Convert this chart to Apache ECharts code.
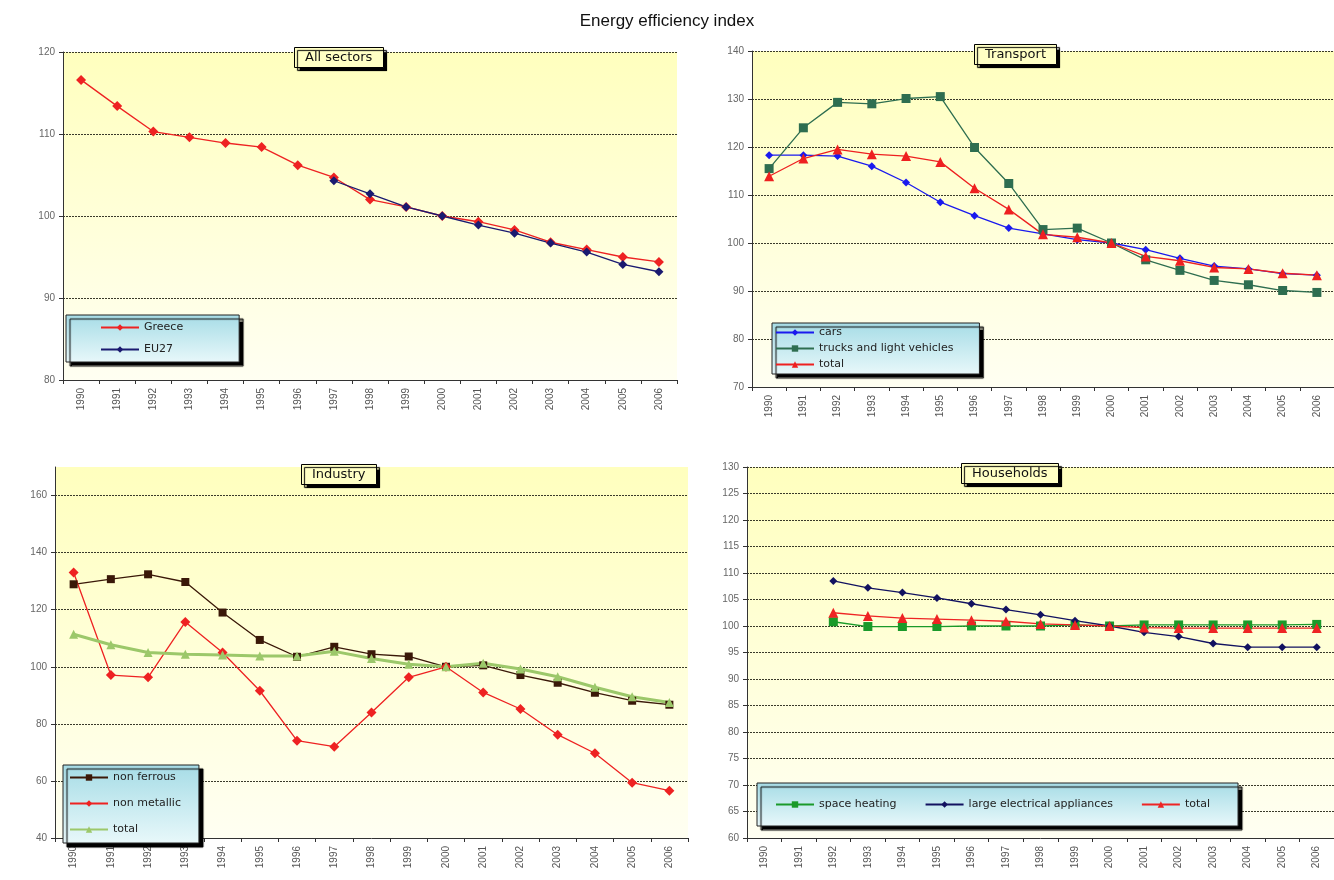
<!DOCTYPE html>
<html>
<head>
<meta charset="utf-8">
<title>Energy efficiency index</title>
<script src="https://cdn.jsdelivr.net/npm/echarts@6/dist/echarts.min.js"></script>
<style>
  html, body { margin: 0; padding: 0; background: #ffffff; }
  #chart { width: 1334px; height: 880px; }
</style>
</head>
<body>
<div id="chart"></div>
<script>
// Years shared by all four panels
const years = ['1990','1991','1992','1993','1994','1995','1996','1997','1998','1999','2000','2001','2002','2003','2004','2005','2006'];

// All sectors (index, 2000 = 100)
const greece = [116.6, 113.4, 110.3, 109.6, 108.9, 108.4, 106.2, 104.7, 102.0, 101.1, 100.0, 99.3, 98.3, 96.8, 95.9, 95.0, 94.4];
const eu27 = [null, null, null, null, null, null, null, 104.3, 102.7, 101.1, 100.0, 98.9, 97.9, 96.7, 95.6, 94.1, 93.2];

// Transport
const cars = [118.3, 118.3, 118.1, 116.0, 112.6, 108.5, 105.7, 103.1, 101.9, 100.7, 100.0, 98.6, 96.8, 95.2, 94.6, 93.6, 93.3];
const trucks = [115.5, 124.0, 129.3, 129.0, 130.1, 130.5, 119.9, 112.4, 102.8, 103.1, 100.0, 96.5, 94.3, 92.2, 91.3, 90.1, 89.7];
const transportTotal = [113.9, 117.6, 119.5, 118.5, 118.1, 116.9, 111.4, 107.0, 101.8, 101.2, 100.0, 97.2, 96.3, 94.9, 94.6, 93.7, 93.3];

// Industry
const nonFerrous = [128.9, 130.7, 132.4, 129.7, 119.0, 109.4, 103.5, 107.0, 104.4, 103.6, 100.0, 100.5, 97.1, 94.4, 90.9, 88.1, 86.7];
const nonMetallic = [133.0, 97.1, 96.3, 115.7, 105.0, 91.6, 74.1, 72.0, 84.0, 96.3, 100.0, 91.0, 85.2, 76.2, 69.7, 59.4, 56.6];
const industryTotal = [111.4, 107.7, 105.0, 104.4, 104.1, 103.8, 103.8, 105.4, 102.9, 100.9, 100.0, 101.2, 99.2, 96.5, 92.8, 89.5, 87.5];

// Households
const spaceHeating = [null, null, 100.8, 99.9, 99.9, 99.9, 100.0, 100.0, 100.0, 100.2, 100.0, 100.2, 100.2, 100.2, 100.2, 100.2, 100.3];
const appliances = [null, null, 108.5, 107.2, 106.3, 105.3, 104.2, 103.1, 102.1, 101.0, 100.0, 98.8, 98.0, 96.7, 96.0, 96.0, 96.0];
const householdsTotal = [null, null, 102.5, 101.9, 101.5, 101.3, 101.1, 100.9, 100.4, 100.2, 100.0, 99.7, 99.6, 99.6, 99.6, 99.6, 99.6];

const FONT = 'Liberation Sans, Arial, sans-serif';
const WIDE_FONT = 'DejaVu Sans, Verdana, sans-serif';

const plotFill = new echarts.graphic.LinearGradient(0, 0, 0, 1, [
  { offset: 0, color: '#ffffbe' },
  { offset: 1, color: '#fffff2' }
]);
const legendFill = new echarts.graphic.LinearGradient(0, 0, 0, 1, [
  { offset: 0, color: '#a6dce6' },
  { offset: 1, color: '#e8f8fa' }
]);

function panelGrid(left, top, width, height) {
  return { left, top, width, height, show: true, backgroundColor: plotFill, borderWidth: 0, containLabel: false };
}

function xAxisFor(gridIndex) {
  return {
    type: 'category', gridIndex, data: years, boundaryGap: true,
    axisLine: { show: true, lineStyle: { color: '#333', width: 1 } },
    axisTick: { show: true, interval: 0, length: 4, lineStyle: { color: '#333' } },
    axisLabel: { interval: 0, rotate: 90, fontSize: 10, color: '#555', fontFamily: FONT, margin: 8 },
    splitLine: { show: false }
  };
}

function yAxisFor(gridIndex, min, max, interval, hideMax) {
  return {
    type: 'value', gridIndex, min, max, interval,
    axisLine: { show: true, lineStyle: { color: '#333', width: 1 } },
    axisTick: { show: true, length: 4, lineStyle: { color: '#333' } },
    axisLabel: { fontSize: 10, color: '#666', fontFamily: FONT, margin: 8, showMaxLabel: !hideMax },
    splitLine: { show: true, showMinLine: false, showMaxLine: !hideMax, lineStyle: { color: '#3a3a2a', width: 1.2, type: [2, 1] } }
  };
}

function panelTitle(text, left, top) {
  return {
    text, left, top,
    padding: [4, 11, 4, 11],
    backgroundColor: '#ffffc4',
    borderColor: '#000', borderWidth: 1,
    shadowColor: '#000', shadowBlur: 1, shadowOffsetX: 3, shadowOffsetY: 3,
    textStyle: { fontFamily: WIDE_FONT, fontSize: 13, fontWeight: 'normal', color: '#111' }
  };
}

function legendBox(opts) {
  return Object.assign({
    backgroundColor: legendFill,
    borderColor: '#222', borderWidth: 1,
    shadowColor: '#000', shadowBlur: 1, shadowOffsetX: 4, shadowOffsetY: 4,
    itemWidth: 38, itemHeight: 8, itemGap: 9,
    textStyle: { fontFamily: WIDE_FONT, fontSize: 11, color: '#222' }
  }, opts);
}

function line(name, data, idx, color, symbol, size, width) {
  return {
    name, type: 'line', data, xAxisIndex: idx, yAxisIndex: idx,
    symbol, symbolSize: size, connectNulls: false,
    lineStyle: { color, width: width || 1.3 },
    itemStyle: { color },
    emphasis: { disabled: true },
    animation: false
  };
}

const chart = echarts.init(document.getElementById('chart'), null, { renderer: 'canvas' });

chart.setOption({
  animation: false,
  backgroundColor: '#ffffff',
  title: [
    { text: 'Energy efficiency index', left: 'center', top: 8,
      textStyle: { fontFamily: FONT, fontSize: 17, fontWeight: 'normal', color: '#111' } },
    panelTitle('All sectors', 294, 47),
    panelTitle('Transport', 974, 44),
    panelTitle('Industry', 301, 464),
    panelTitle('Households', 961, 463)
  ],
  legend: [
    legendBox({ orient: 'vertical', left: 66, top: 315, padding: [7, 56, 7, 34], itemGap: 11,
      data: ['Greece', 'EU27'] }),
    legendBox({ orient: 'vertical', left: 772, top: 323, padding: [4, 26, 4, 3], itemGap: 5,
      data: ['cars', 'trucks and light vehicles', 'Transport total'],
      formatter: n => n === 'Transport total' ? 'total' : n }),
    legendBox({ orient: 'vertical', left: 63, top: 765, padding: [7, 18, 8, 6], itemGap: 15,
      data: ['non ferrous', 'non metallic', 'Industry total'],
      formatter: n => n === 'Industry total' ? 'total' : n }),
    legendBox({ orient: 'horizontal', left: 757, top: 783, padding: [16, 28, 16, 18], itemGap: 28,
      data: ['space heating', 'large electrical appliances', 'Households total'],
      formatter: n => n === 'Households total' ? 'total' : n })
  ],
  grid: [
    panelGrid(63, 52, 614, 328),
    panelGrid(752, 51, 594, 336),
    panelGrid(55, 467, 633, 371),
    panelGrid(747, 467, 598, 371)
  ],
  xAxis: [xAxisFor(0), xAxisFor(1), xAxisFor(2), xAxisFor(3)],
  yAxis: [
    yAxisFor(0, 80, 120, 10, false),
    yAxisFor(1, 70, 140, 10, false),
    yAxisFor(2, 40, 170, 20, true),
    yAxisFor(3, 60, 130, 5, false)
  ],
  series: [
    line('Greece', greece, 0, '#ee2222', 'diamond', 10),
    line('EU27', eu27, 0, '#1a1a70', 'diamond', 9),

    line('cars', cars, 1, '#1a1aee', 'diamond', 8),
    line('trucks and light vehicles', trucks, 1, '#2e6e50', 'rect', 9),
    line('Transport total', transportTotal, 1, '#ee2020', 'triangle', 10),

    line('non ferrous', nonFerrous, 2, '#3a1808', 'rect', 8),
    line('non metallic', nonMetallic, 2, '#ee2222', 'diamond', 10),
    line('Industry total', industryTotal, 2, '#9cc86a', 'triangle', 9, 3),

    line('space heating', spaceHeating, 3, '#1a9a2a', 'rect', 9),
    line('large electrical appliances', appliances, 3, '#121260', 'diamond', 8),
    line('Households total', householdsTotal, 3, '#ee2424', 'triangle', 10)
  ]
});
</script>
</body>
</html>
